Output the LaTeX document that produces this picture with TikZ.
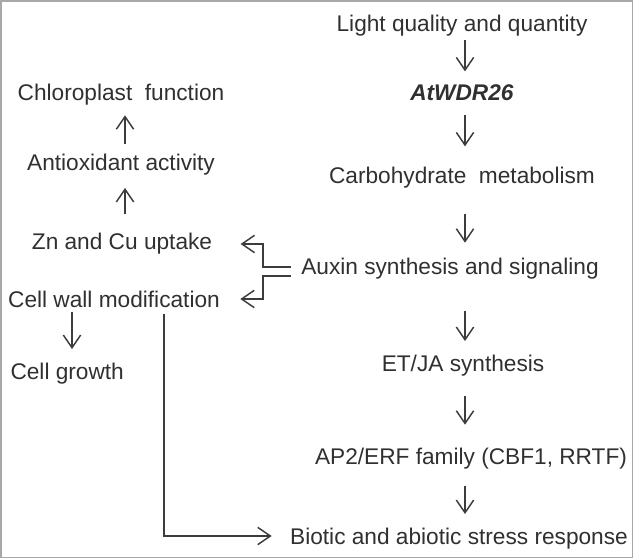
\documentclass[tikz,border=0pt]{standalone}
\usepackage{fontspec}
\setmainfont{Liberation Sans}
\usetikzlibrary{arrows.meta,calc}

\definecolor{txtgray}{HTML}{303030}
\definecolor{lngray}{HTML}{3C3C3C}
\definecolor{frmgray}{HTML}{A8A8A8}

\tikzset{every picture/.style={line width=0.75pt}}
\tikzset{
  lbl/.style={inner sep=0pt, text height=12.2pt, text depth=0pt, text=txtgray,
    font=\fontsize{17}{20}\selectfont},
  arr/.style={draw=lngray, line width=1.1pt, -{Straight Barb[length=9.5pt,width=13pt,line width=1.1pt]}}
}

\begin{document}
\begin{tikzpicture}[x=0.75pt,y=0.75pt,yscale=-1,xscale=1]
	\useasboundingbox (0,0) rectangle (634,559);

	%Shape: Rectangle [id:frame]
	\draw [draw=frmgray, line width=1.2pt] (1,1) rectangle (632.5,557.5);

	% columns of the connectors
	\coordinate (col) at (465,0);
	\coordinate (lcol) at (125,0);
	\coordinate (gcol) at (72,0);
	\coordinate (lx) at (164,0);

	% Text Node
	\node [lbl] (light) at (462,23) {Light quality and quantity};
	% Text Node
	\node [lbl] (wdr) at (462,92) {\textbf{\textit{AtWDR26}}};
	% Text Node
	\node [lbl] (carb) at (462,175) {Carbohydrate \ metabolism};
	% Text Node
	\node [lbl] (auxin) at (450,266) {Auxin synthesis and signaling};
	% Text Node
	\node [lbl] (etja) at (463,363) {ET/JA synthesis};
	% Text Node
	\node [lbl] (ap2) at (471,456) {AP2/ERF family (CBF1, RRTF)};
	% Text Node
	\node [lbl] (biotic) at (459,536) {Biotic and abiotic stress response};

	% Text Node
	\node [lbl] (chloro) at (121,92) {Chloroplast \ function};
	% Text Node
	\node [lbl] (antiox) at (121,162) {Antioxidant activity};
	% Text Node
	\node [lbl] (zn) at (122,241) {Zn and Cu uptake};
	% Text Node
	\node [lbl] (cellwall) at (114,299) {Cell wall modification};
	% Text Node
	\node [lbl, anchor=west] (growth) at (10,371) {Cell growth};

	% Straight Lines, right column
	\draw [arr, shorten <=6.5pt, shorten >=9pt] (light.south -| col) -- (wdr.north -| col);
	\draw [arr, shorten <=11pt, shorten >=15pt] (wdr.south -| col) -- (carb.north -| col);
	\draw [arr, shorten <=22.5pt, shorten >=11pt] (carb.south -| col) -- (auxin.north -| col);
	\draw [arr, shorten <=27pt, shorten >=10pt] (auxin.south -| col) -- (etja.north -| col);
	\draw [arr, shorten <=18pt, shorten >=17pt] (etja.south -| col) -- (ap2.north -| col);
	\draw [arr, shorten <=16pt, shorten >=10pt] (ap2.south -| col) -- (biotic.north -| col);

	% Straight Lines, left column
	\draw [arr, shorten <=7pt, shorten >=11pt] (antiox.north -| lcol) -- (chloro.south -| lcol);
	\draw [arr, shorten <=13.5pt, shorten >=13pt] (zn.north -| lcol) -- (antiox.south -| lcol);
	\draw [arr, shorten <=3pt, shorten >=10pt] (cellwall.south -| gcol) -- (growth.north -| gcol);

	% Elbow Lines from auxin
	\draw [arr] ($(auxin.west)+(-10,1)$) -- ++(-28,0) |- ($(zn.east)+(28,3)$);
	\draw [arr] ($(auxin.west)+(-10,10)$) -- ++(-28,0) |- ($(cellwall.east)+(20,0)$);

	% Long Line to stress response
	\draw [arr] ($(cellwall.south -| lx)+(0,6)$) |- ($(biotic.west)+(-18,0)$);

\end{tikzpicture}
\end{document}
